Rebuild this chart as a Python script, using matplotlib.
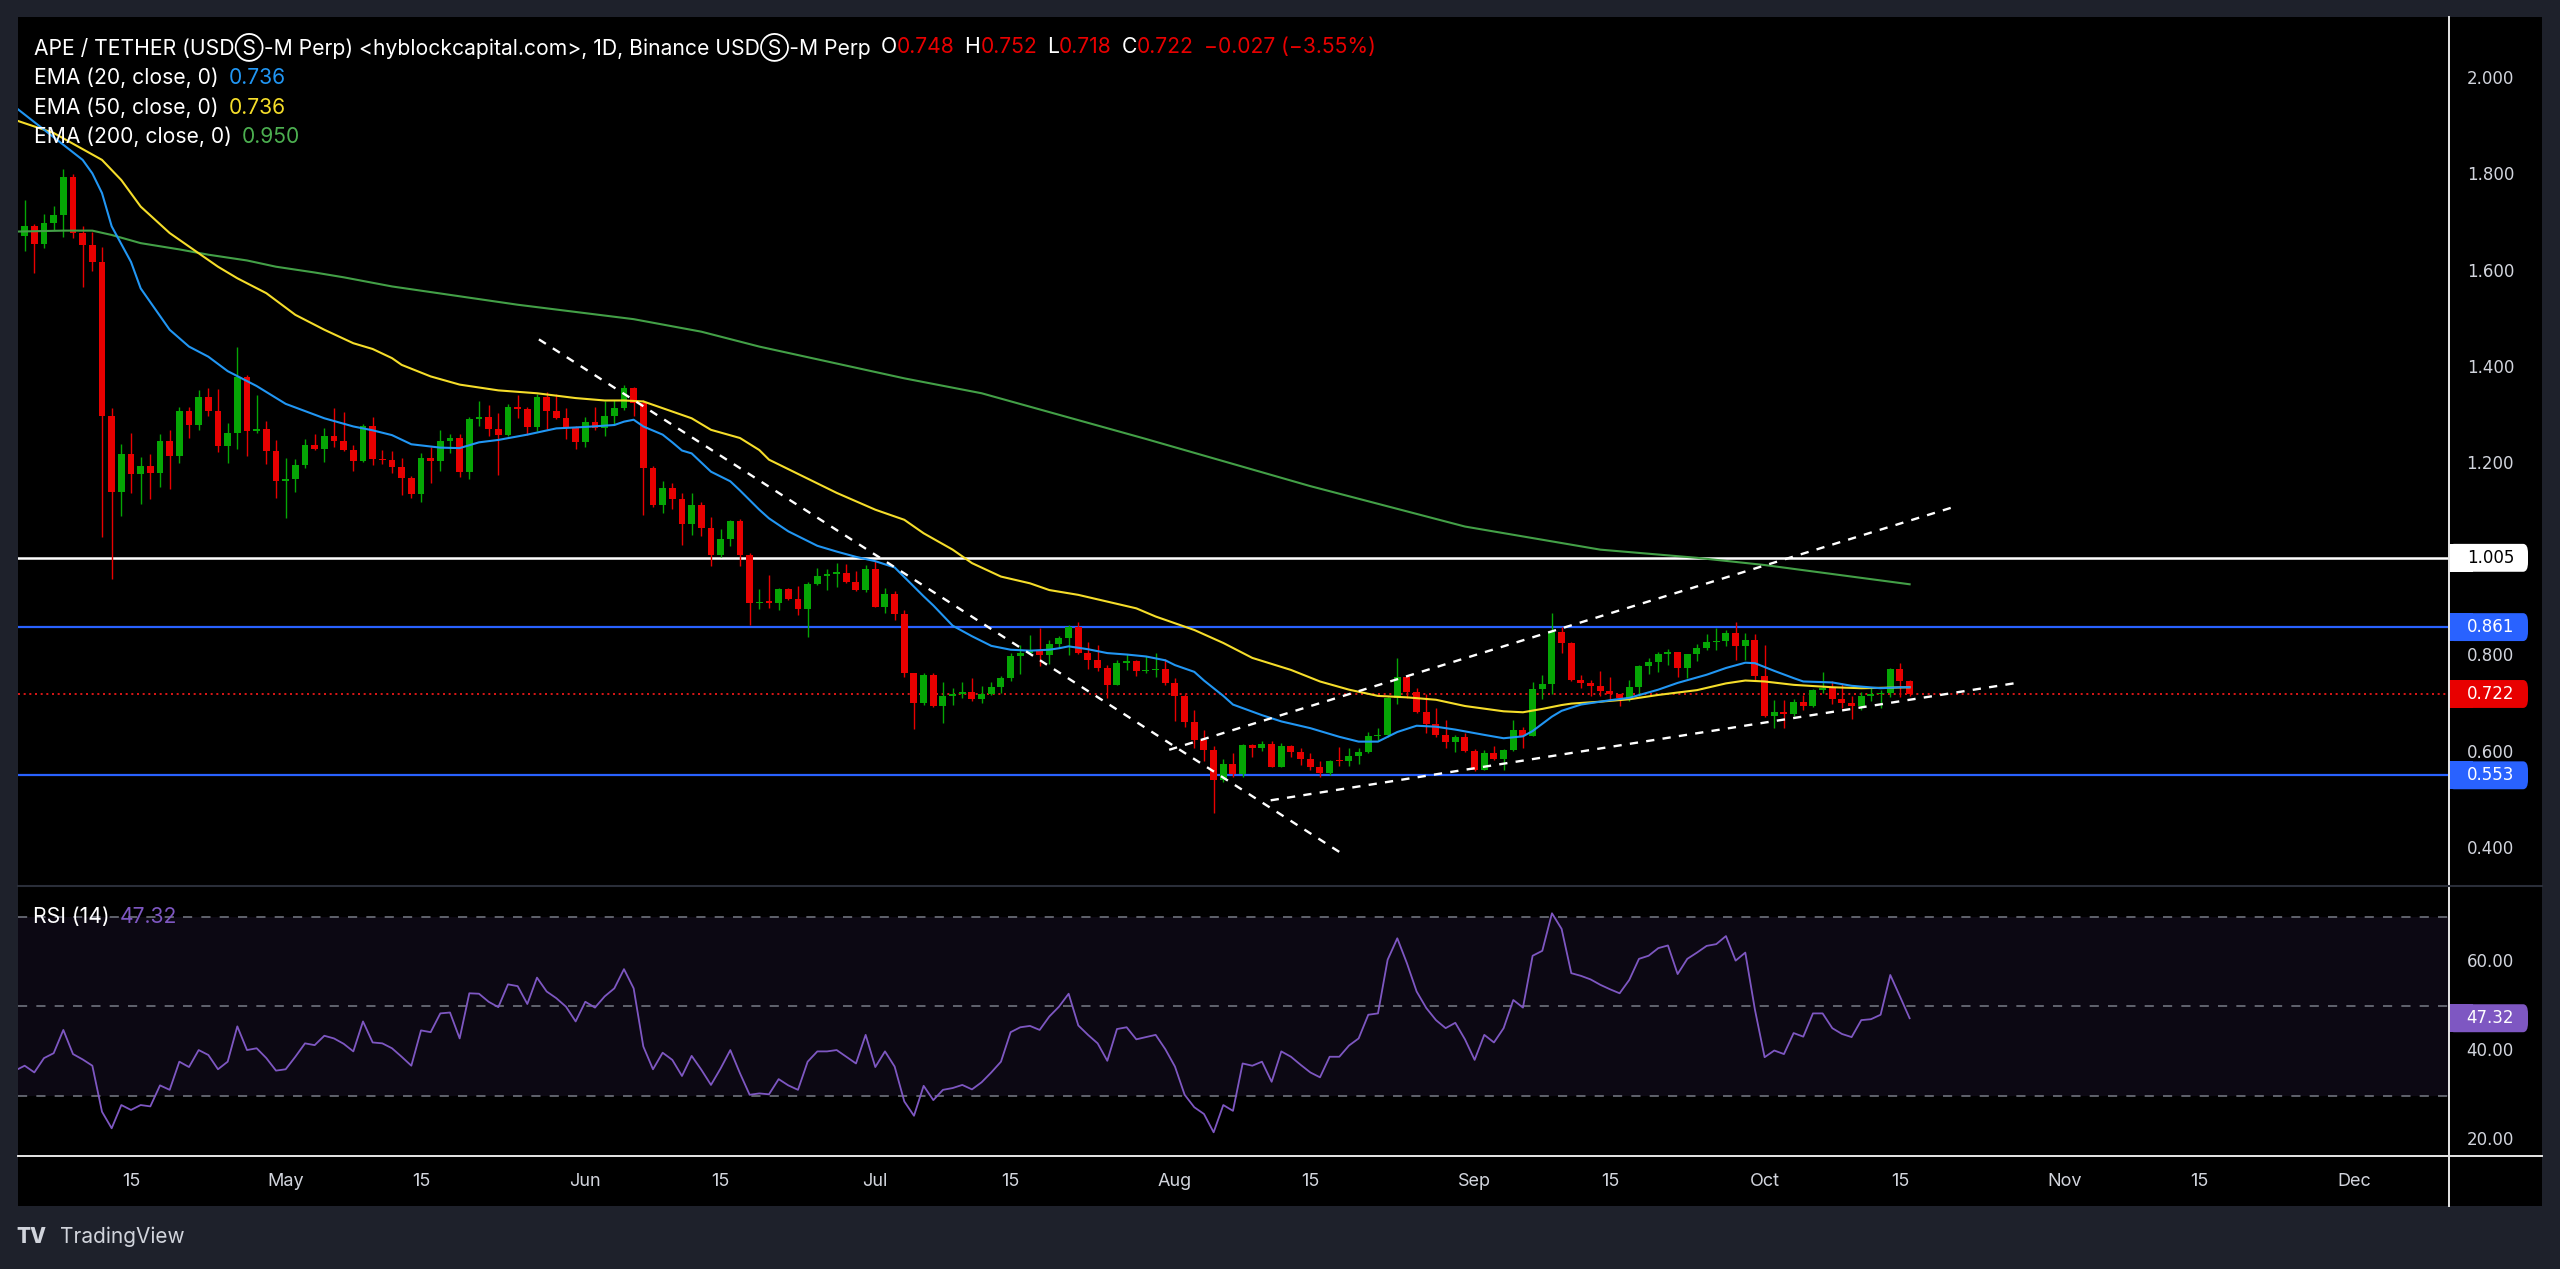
#!/usr/bin/env python3
# -*- coding: utf-8 -*-
"""
APE/USDT daily chart (TradingView look-alike): candles, EMA 20/50/200,
horizontal levels, hand-drawn trend channel and an RSI(14) sub-pane.
"""

import numpy as np
import pandas as pd
import matplotlib
matplotlib.use('Agg')
import matplotlib.pyplot as plt
from matplotlib.lines import Line2D
from matplotlib.patches import Rectangle, FancyBboxPatch

# ----------------------------------------------------------------
# Data
# ----------------------------------------------------------------
FIRST_DAY = '2024-04-03'

opens = [
    # Apr 3 - Apr 30
    1.714, 1.673, 1.694, 1.658, 1.700, 1.718, 1.796, 1.680, 1.655, 1.619, 1.300, 1.142, 1.221, 1.180,
    1.196, 1.181, 1.248, 1.217, 1.311, 1.280, 1.339, 1.310, 1.238, 1.264, 1.380, 1.268, 1.272, 1.228,
    # May
    1.164, 1.168, 1.198, 1.239, 1.232, 1.259, 1.247, 1.229, 1.207, 1.278, 1.211, 1.208, 1.193, 1.170,
    1.138, 1.212, 1.207, 1.247, 1.254, 1.184, 1.294, 1.297, 1.272, 1.261, 1.318, 1.314, 1.277, 1.340,
    1.310, 1.295, 1.274,
    # Jun
    1.245, 1.288, 1.274, 1.300, 1.317, 1.358, 1.326, 1.191, 1.115, 1.150, 1.127, 1.075, 1.115, 1.068,
    1.010, 1.044, 1.081, 1.011, 0.911, 0.914, 0.912, 0.940, 0.919, 0.898, 0.951, 0.968, 0.972, 0.973,
    0.954, 0.939,
    # Jul
    0.981, 0.902, 0.930, 0.888, 0.765, 0.704, 0.762, 0.697, 0.717, 0.722, 0.726, 0.712, 0.722, 0.736,
    0.755, 0.801, 0.808, 0.812, 0.803, 0.826, 0.839, 0.861, 0.807, 0.792, 0.776, 0.741, 0.786, 0.790,
    0.769, 0.772, 0.774,
    # Aug
    0.745, 0.717, 0.664, 0.627, 0.606, 0.544, 0.577, 0.556, 0.617, 0.610, 0.619, 0.571, 0.614, 0.602,
    0.586, 0.570, 0.558, 0.583, 0.582, 0.594, 0.601, 0.634, 0.637, 0.714, 0.757, 0.727, 0.684, 0.659,
    0.637, 0.623, 0.632,
    # Sep
    0.604, 0.565, 0.600, 0.586, 0.605, 0.648, 0.635, 0.732, 0.743, 0.850, 0.827, 0.751, 0.745, 0.738,
    0.728, 0.721, 0.714, 0.737, 0.780, 0.789, 0.805, 0.809, 0.775, 0.805, 0.817, 0.829, 0.833, 0.849,
    0.821, 0.835,
    # Oct 1 - Oct 16
    0.759, 0.676, 0.685, 0.680, 0.705, 0.698, 0.731, 0.734, 0.712, 0.703, 0.697, 0.718, 0.722, 0.724,
    0.774, 0.748,
]
highs = [
    1.725, 1.749, 1.699, 1.720, 1.737, 1.813, 1.803, 1.694, 1.683, 1.651, 1.316, 1.242, 1.264, 1.214,
    1.221, 1.263, 1.270, 1.318, 1.319, 1.354, 1.358, 1.356, 1.285, 1.443, 1.385, 1.343, 1.290, 1.249,
    1.212, 1.210, 1.252, 1.263, 1.275, 1.316, 1.309, 1.239, 1.283, 1.297, 1.229, 1.226, 1.212, 1.175,
    1.223, 1.236, 1.270, 1.263, 1.263, 1.297, 1.331, 1.322, 1.306, 1.325, 1.343, 1.318, 1.346, 1.349,
    1.346, 1.316, 1.279,
    1.297, 1.318, 1.330, 1.332, 1.364, 1.361, 1.332, 1.195, 1.165, 1.160, 1.139, 1.139, 1.120, 1.090,
    1.065, 1.084, 1.085, 1.014, 0.940, 0.970, 0.942, 0.942, 0.947, 0.955, 0.984, 0.981, 0.995, 0.992,
    0.977, 0.990,
    0.999, 0.942, 0.935, 0.896, 0.766, 0.765, 0.765, 0.747, 0.734, 0.747, 0.755, 0.738, 0.746, 0.760,
    0.808, 0.823, 0.844, 0.859, 0.835, 0.843, 0.866, 0.871, 0.829, 0.824, 0.783, 0.792, 0.805, 0.793,
    0.801, 0.808, 0.794,
    0.755, 0.722, 0.689, 0.648, 0.613, 0.587, 0.599, 0.619, 0.619, 0.625, 0.625, 0.621, 0.617, 0.609,
    0.600, 0.583, 0.585, 0.611, 0.609, 0.609, 0.643, 0.651, 0.716, 0.797, 0.759, 0.734, 0.722, 0.692,
    0.668, 0.637, 0.640,
    0.607, 0.605, 0.613, 0.607, 0.667, 0.654, 0.747, 0.762, 0.890, 0.861, 0.829, 0.762, 0.751, 0.769,
    0.757, 0.723, 0.751, 0.782, 0.797, 0.810, 0.815, 0.810, 0.805, 0.826, 0.846, 0.859, 0.856, 0.872,
    0.849, 0.847,
    0.824, 0.710, 0.710, 0.712, 0.719, 0.733, 0.768, 0.748, 0.745, 0.718, 0.726, 0.736, 0.731, 0.775,
    0.786, 0.752,
]
lows = [
    1.660, 1.642, 1.597, 1.649, 1.687, 1.671, 1.669, 1.568, 1.602, 1.049, 0.961, 1.091, 1.139, 1.117,
    1.128, 1.153, 1.148, 1.202, 1.254, 1.271, 1.300, 1.224, 1.202, 1.231, 1.217, 1.265, 1.200, 1.129,
    1.087, 1.141, 1.191, 1.229, 1.205, 1.235, 1.228, 1.186, 1.205, 1.198, 1.200, 1.181, 1.136, 1.129,
    1.122, 1.160, 1.186, 1.223, 1.174, 1.168, 1.278, 1.259, 1.178, 1.259, 1.295, 1.261, 1.269, 1.272,
    1.293, 1.252, 1.231,
    1.235, 1.270, 1.259, 1.281, 1.313, 1.299, 1.094, 1.110, 1.099, 1.106, 1.031, 1.052, 1.051, 0.987,
    1.006, 1.029, 0.987, 0.866, 0.898, 0.900, 0.897, 0.917, 0.887, 0.840, 0.949, 0.938, 0.945, 0.953,
    0.935, 0.933,
    0.902, 0.891, 0.876, 0.758, 0.649, 0.700, 0.695, 0.661, 0.700, 0.713, 0.708, 0.704, 0.719, 0.725,
    0.748, 0.764, 0.806, 0.781, 0.785, 0.817, 0.803, 0.805, 0.774, 0.769, 0.713, 0.740, 0.771, 0.760,
    0.766, 0.758, 0.740,
    0.665, 0.654, 0.609, 0.582, 0.474, 0.540, 0.549, 0.549, 0.590, 0.603, 0.570, 0.570, 0.592, 0.574,
    0.563, 0.549, 0.554, 0.573, 0.573, 0.577, 0.599, 0.627, 0.632, 0.701, 0.714, 0.683, 0.641, 0.632,
    0.610, 0.602, 0.602,
    0.562, 0.565, 0.585, 0.563, 0.603, 0.609, 0.634, 0.711, 0.722, 0.808, 0.749, 0.734, 0.718, 0.718,
    0.710, 0.698, 0.708, 0.718, 0.763, 0.768, 0.783, 0.757, 0.755, 0.791, 0.814, 0.814, 0.821, 0.793,
    0.793, 0.750,
    0.675, 0.651, 0.652, 0.677, 0.688, 0.695, 0.724, 0.702, 0.693, 0.671, 0.689, 0.707, 0.693, 0.715,
    0.716, 0.718,
]
closes = [
    1.673, 1.694, 1.658, 1.700, 1.718, 1.796, 1.680, 1.655, 1.619, 1.300, 1.142, 1.221, 1.180, 1.196,
    1.181, 1.248, 1.217, 1.311, 1.280, 1.339, 1.310, 1.238, 1.264, 1.380, 1.268, 1.272, 1.228, 1.164,
    1.168, 1.198, 1.239, 1.232, 1.259, 1.247, 1.229, 1.207, 1.278, 1.211, 1.208, 1.193, 1.170, 1.138,
    1.212, 1.207, 1.247, 1.254, 1.184, 1.294, 1.297, 1.272, 1.261, 1.318, 1.314, 1.277, 1.340, 1.310,
    1.295, 1.274, 1.245,
    1.288, 1.274, 1.300, 1.317, 1.358, 1.326, 1.191, 1.115, 1.150, 1.127, 1.075, 1.115, 1.068, 1.010,
    1.044, 1.081, 1.011, 0.911, 0.914, 0.912, 0.940, 0.919, 0.898, 0.951, 0.968, 0.972, 0.973, 0.954,
    0.939, 0.981,
    0.902, 0.930, 0.888, 0.765, 0.704, 0.762, 0.697, 0.717, 0.722, 0.726, 0.712, 0.722, 0.736, 0.755,
    0.801, 0.808, 0.812, 0.803, 0.826, 0.839, 0.861, 0.807, 0.792, 0.776, 0.741, 0.786, 0.790, 0.769,
    0.772, 0.774, 0.745,
    0.717, 0.664, 0.627, 0.606, 0.544, 0.577, 0.556, 0.617, 0.610, 0.619, 0.571, 0.614, 0.602, 0.586,
    0.570, 0.558, 0.583, 0.582, 0.594, 0.601, 0.634, 0.637, 0.714, 0.757, 0.727, 0.684, 0.659, 0.637,
    0.623, 0.632, 0.604,
    0.565, 0.600, 0.586, 0.605, 0.648, 0.635, 0.732, 0.743, 0.850, 0.827, 0.751, 0.745, 0.738, 0.728,
    0.721, 0.714, 0.737, 0.780, 0.789, 0.805, 0.809, 0.775, 0.805, 0.817, 0.829, 0.833, 0.849, 0.821,
    0.835, 0.759,
    0.676, 0.685, 0.680, 0.705, 0.698, 0.731, 0.734, 0.712, 0.703, 0.697, 0.718, 0.722, 0.724, 0.774,
    0.748, 0.722,
]

rsi_vals = [
    35.6, 36.7, 35.2, 38.4, 39.5, 44.7, 39.3, 38.1, 36.7, 26.4, 22.7, 27.9, 26.8, 27.9, 27.6, 32.3,
    31.3, 37.6, 36.4, 40.2, 39.1, 35.9, 37.6, 45.5, 40.2, 40.6, 38.4, 35.6,
    35.9, 38.7, 41.7, 41.3, 43.4, 42.8, 41.6, 39.9, 46.6, 41.9, 41.7, 40.6, 38.7, 36.7, 44.6, 44.2,
    48.4, 48.6, 42.8, 52.9, 52.8, 51.0, 49.8, 54.9, 54.5, 50.5, 56.4, 53.3, 51.8, 49.9, 46.6,
    51.0, 49.7, 52.2, 54.0, 58.3, 54.0, 41.0, 35.9, 39.6, 38.0, 34.4, 38.9, 35.8, 32.4, 36.1, 40.2,
    35.0, 30.2, 30.5, 30.3, 33.7, 32.3, 31.3, 37.6, 39.9, 39.9, 40.2, 38.7, 37.2, 43.6,
    36.4, 39.9, 36.5, 28.7, 25.5, 32.2, 29.0, 31.3, 31.7, 32.4, 31.4, 33.0, 35.2, 37.6, 44.2, 45.3,
    45.6, 44.7, 47.7, 49.9, 52.8, 45.7, 43.6, 41.7, 37.8, 44.9, 45.3, 42.6, 43.1, 43.6, 40.4,
    36.5, 30.2, 27.4, 25.9, 21.8, 27.9, 26.6, 37.2, 36.7, 37.6, 33.1, 39.9, 38.7, 36.9, 35.2, 34.1,
    38.7, 38.7, 41.2, 42.8, 48.1, 48.4, 60.4, 65.2, 59.6, 53.3, 49.6, 46.9, 45.1, 46.3, 42.6,
    38.0, 43.6, 41.9, 45.1, 51.4, 49.7, 61.3, 62.4, 70.8, 67.3, 57.4, 56.8, 56.0, 54.8, 53.8, 52.9,
    55.9, 60.6, 61.3, 63.0, 63.6, 57.2, 60.6, 62.0, 63.5, 63.9, 65.7, 60.2, 62.0, 49.2,
    38.6, 40.1, 39.3, 44.0, 43.2, 48.4, 48.4, 45.1, 43.8, 43.1, 46.9, 47.1, 48.1, 57.0, 52.2, 47.32,
]

# EMA readings: candle index (0 = Apr 3) and value
ema20_idx = [0, 7, 8, 9, 10, 12, 13, 16, 18, 20, 22, 25, 28, 32, 35, 37, 39, 41, 44, 46, 48, 50, 53,
             56, 59, 62, 63, 64, 65, 67, 68, 69, 70, 72, 74, 75, 77, 78, 80, 83, 85, 87, 89, 91, 92,
             94, 95, 97, 99, 101, 103, 105, 107, 108, 109, 111, 113, 115, 117, 119, 120, 122, 123,
             125, 126, 129, 131, 134, 137, 139, 141, 143, 145, 147, 149, 152, 154, 156, 157, 158,
             159, 160, 162, 165, 167, 170, 172, 175, 177, 179, 180, 182, 184, 185, 188, 190, 193,
             195, 196]
ema20_vals = [1.942, 1.832, 1.804, 1.763, 1.694, 1.620, 1.565, 1.479, 1.444, 1.423, 1.393, 1.362,
              1.325, 1.295, 1.278, 1.270, 1.260, 1.241, 1.234, 1.233, 1.245, 1.250, 1.261, 1.274,
              1.277, 1.281, 1.288, 1.292, 1.278, 1.261, 1.245, 1.228, 1.222, 1.184, 1.164, 1.145,
              1.105, 1.087, 1.060, 1.030, 1.018, 1.007, 0.998, 0.985, 0.965, 0.925, 0.906, 0.864,
              0.842, 0.822, 0.814, 0.812, 0.814, 0.817, 0.821, 0.815, 0.807, 0.804, 0.800, 0.792,
              0.782, 0.768, 0.750, 0.718, 0.700, 0.678, 0.665, 0.651, 0.633, 0.623, 0.623, 0.643,
              0.656, 0.654, 0.648, 0.637, 0.630, 0.634, 0.645, 0.660, 0.675, 0.687, 0.700, 0.709,
              0.714, 0.731, 0.745, 0.762, 0.776, 0.787, 0.786, 0.770, 0.755, 0.748, 0.746, 0.739,
              0.734, 0.736, 0.736]

ema50_idx = [0, 4, 9, 11, 13, 16, 19, 21, 23, 26, 29, 32, 35, 37, 39, 40, 43, 46, 50, 54, 58, 61,
             63, 65, 67, 70, 72, 75, 77, 78, 85, 89, 92, 94, 97, 99, 102, 105, 107, 110, 113, 116,
             118, 120, 122, 125, 128, 132, 135, 138, 141, 144, 147, 150, 154, 156, 158, 160, 161,
             164, 167, 170, 174, 177, 179, 181, 184, 188, 191, 196]
ema50_vals = [1.915, 1.888, 1.832, 1.790, 1.735, 1.680, 1.638, 1.610, 1.586, 1.555, 1.510, 1.479,
              1.451, 1.439, 1.420, 1.406, 1.382, 1.365, 1.353, 1.347, 1.337, 1.332, 1.332, 1.330,
              1.316, 1.295, 1.271, 1.254, 1.229, 1.209, 1.140, 1.105, 1.084, 1.056, 1.022, 0.994,
              0.966, 0.952, 0.938, 0.928, 0.914, 0.900, 0.883, 0.869, 0.855, 0.828, 0.797, 0.772,
              0.748, 0.731, 0.718, 0.715, 0.710, 0.697, 0.686, 0.684, 0.691, 0.699, 0.702, 0.706,
              0.711, 0.720, 0.730, 0.744, 0.750, 0.748, 0.741, 0.736, 0.734, 0.736]

ema200_idx = [0, 5, 8, 10, 13, 17, 20, 24, 27, 31, 34, 39, 52, 64, 71, 77, 92, 100, 117, 134, 150,
              164, 174, 181, 196]
ema200_vals = [1.683, 1.685, 1.685, 1.676, 1.659, 1.646, 1.635, 1.623, 1.610, 1.598, 1.588, 1.569,
               1.531, 1.501, 1.475, 1.444, 1.378, 1.347, 1.252, 1.154, 1.070, 1.022, 1.005, 0.990,
               0.950]

# horizontal levels drawn on the chart
level_white = 1.005
levels_blue = [0.861, 0.553]
last_close = 0.722
rsi_last = 47.32

# dashed trend lines (candle index, price)
down_x, down_y = [54.2, 137.6], [1.459, 0.386]
lower_x, lower_y = [129.9, 207.4], [0.501, 0.746]
upper_x, upper_y = [119.4, 200.3], [0.606, 1.109]

price_ticks = [2.0, 1.8, 1.6, 1.4, 1.2, 0.8, 0.6, 0.4]
rsi_ticks = [60, 40, 20]
rsi_bands = [70, 50, 30]
tick_dates = ['2024-04-15', '2024-05-01', '2024-05-15', '2024-06-01', '2024-06-15', '2024-07-01',
              '2024-07-15', '2024-08-01', '2024-08-15', '2024-09-01', '2024-09-15', '2024-10-01',
              '2024-10-15', '2024-11-01', '2024-11-15', '2024-12-01']
tick_labels = ['15', 'May', '15', 'Jun', '15', 'Jul', '15', 'Aug', '15', 'Sep', '15', 'Oct', '15',
               'Nov', '15', 'Dec']

# ----------------------------------------------------------------
# Style
# ----------------------------------------------------------------
BG_OUTER = '#1e212b'
C_UP = '#05a605'
C_DN = '#e80000'
C_EMA20 = '#2196f3'
C_EMA50 = '#f5dd2a'
C_EMA200 = '#43a047'
C_LEVEL = '#2962ff'
C_RSI = '#7e57c2'
C_AXTXT = '#d1d4dc'
C_TITLE_RED = '#e80000'

FONT = ['Inter', 'DejaVu Sans', 'Noto Sans CJK SC']
plt.rcParams['font.family'] = FONT

W, H = 2560, 1269
fig = plt.figure(figsize=(W / 100, H / 100), dpi=100, facecolor=BG_OUTER)


def fx(px):
    return px / W


def fy(py):
    return 1 - py / H


# black chart panel (behind the axes)
fig.patches.append(Rectangle((fx(18), fy(1206)), fx(2542) - fx(18), fy(17) - fy(1206),
                             transform=fig.transFigure, fc='black', ec='none', zorder=-5))

ax = fig.add_axes([fx(18), fy(885), fx(2449) - fx(18), fy(17) - fy(885)])
ax_rsi = fig.add_axes([fx(18), fy(1156), fx(2449) - fx(18), fy(886) - fy(1156)], sharex=ax)
for a in (ax, ax_rsi):
    a.set_facecolor('black')
    for s in a.spines.values():
        s.set_visible(False)
    a.tick_params(left=False, bottom=False, labelleft=False, labelbottom=False)

# ----------------------------------------------------------------
# Price pane
# ----------------------------------------------------------------
o = np.array(opens)
h = np.array(highs)
l = np.array(lows)
c = np.array(closes)
idx = np.arange(len(c))
cols = np.where(c >= o, C_UP, C_DN)

ax.vlines(idx, l, h, colors=cols, lw=1.0, zorder=3)
ax.bar(idx, np.maximum(np.abs(c - o), 0.0025), bottom=np.minimum(o, c), width=0.72,
       color=cols, lw=0, zorder=4)

ax.plot(ema200_idx, ema200_vals, color=C_EMA200, lw=1.5, zorder=5)
ax.plot(ema50_idx, ema50_vals, color=C_EMA50, lw=1.5, zorder=5)
ax.plot(ema20_idx, ema20_vals, color=C_EMA20, lw=1.5, zorder=5)

ax.axhline(level_white, color='white', lw=1.8, zorder=2)
for lv in levels_blue:
    ax.axhline(lv, color=C_LEVEL, lw=1.6, zorder=2)
ax.axhline(last_close, color='#ff1a1a', lw=1.2, ls=(0, (1.2, 2.2)), zorder=2)

for xs, ys in ((down_x, down_y), (lower_x, lower_y), (upper_x, upper_y)):
    ax.plot(xs, ys, color='white', lw=1.7, ls=(0, (3.5, 3.5)), zorder=6)

ax.set_xlim(0.31, 251.8)
ax.set_ylim(0.325, 2.129)

# price scale labels
ytr = ax.get_yaxis_transform()
for p in price_ticks:
    ax.text(1.017, p, f'{p:.3f}', transform=ytr, ha='center', va='center', fontsize=12,
            color=C_AXTXT, family='DejaVu Sans', clip_on=False)


def badge(axis, val, txt, fc, tc, half_h):
    """Value tag on the price scale: flush left edge, rounded right end."""
    tr = axis.get_yaxis_transform()
    axis.add_patch(Rectangle((1.0, val - half_h), 0.01, 2 * half_h, transform=tr,
                             fc=fc, ec='none', clip_on=False, zorder=10))
    axis.add_patch(FancyBboxPatch((1.0, val - half_h), 0.0325, 2 * half_h, transform=tr,
                                  boxstyle='round,pad=0,rounding_size=0.002',
                                  mutation_aspect=(2 * half_h) / 0.006,
                                  fc=fc, ec='none', clip_on=False, zorder=10))
    axis.text(1.017, val, txt, transform=tr, ha='center', va='center', fontsize=12,
              color=tc, family='DejaVu Sans', clip_on=False, zorder=11)


for val, fc, tc in ((level_white, 'white', 'black'), (levels_blue[0], C_LEVEL, 'white'),
                    (last_close, '#e80000', 'white'), (levels_blue[1], C_LEVEL, 'white')):
    badge(ax, val, f'{val:.3f}', fc, tc, 0.029)

# ----------------------------------------------------------------
# RSI pane
# ----------------------------------------------------------------
ax_rsi.axhspan(rsi_bands[-1], rsi_bands[0], color=C_RSI, alpha=0.10, lw=0)
for b in rsi_bands:
    ax_rsi.axhline(b, color='#787b86', lw=1.1, ls=(0, (6, 6)))
ax_rsi.plot(np.arange(len(rsi_vals)), rsi_vals, color=C_RSI, lw=1.3)
ax_rsi.set_ylim(16.5, 76.9)

rtr = ax_rsi.get_yaxis_transform()
for r in rsi_ticks:
    ax_rsi.text(1.017, r, f'{r:.2f}', transform=rtr, ha='center', va='center', fontsize=12,
                color=C_AXTXT, family='DejaVu Sans', clip_on=False)
badge(ax_rsi, rsi_last, f'{rsi_last:.2f}', C_RSI, 'white', 3.13)

# time axis labels
first = pd.Timestamp(FIRST_DAY)
xtr = ax_rsi.get_xaxis_transform()
for d, lab in zip(tick_dates, tick_labels):
    pos = (pd.Timestamp(d) - first).days
    ax_rsi.text(pos, -0.095, lab, transform=xtr, ha='center', va='center', fontsize=13,
                color=C_AXTXT, clip_on=False)

# ----------------------------------------------------------------
# Frame lines
# ----------------------------------------------------------------
fig.add_artist(Line2D([fx(2449), fx(2449)], [fy(17), fy(1206)], color='#e6e6e6', lw=1.4))
fig.add_artist(Line2D([fx(18), fx(2542)], [fy(1156), fy(1156)], color='#e6e6e6', lw=1.4))
fig.add_artist(Line2D([fx(18), fx(2542)], [fy(885.5), fy(885.5)], color='#2a2e39', lw=1.5))

# ----------------------------------------------------------------
# Legend texts (multi-colour runs)
# ----------------------------------------------------------------
rend = fig.canvas.get_renderer()


def draw_runs(runs, x0, y0, size):
    x = x0
    for txt, col, gap in runs:
        x += gap
        t = fig.text(fx(x), fy(y0), txt, color=col, fontsize=size, ha='left', va='center')
        x += t.get_window_extent(rend).width
    return x


TS = 15.2
draw_runs([('APE / TETHER (USD\u24c8-M Perp) <hyblockcapital.com>, 1D, Binance USD\u24c8-M Perp',
            'white', 0),
           ('O', 'white', 10), ('0.748', C_TITLE_RED, 0),
           ('H', 'white', 10), ('0.752', C_TITLE_RED, 0),
           ('L', 'white', 10), ('0.718', C_TITLE_RED, 0),
           ('C', 'white', 10), ('0.722', C_TITLE_RED, 0),
           ('\u22120.027 (\u22123.55%)', C_TITLE_RED, 10)], 34, 47, TS)
draw_runs([('EMA (20, close, 0)', 'white', 0), ('0.736', C_EMA20, 10)], 34, 78, TS)
draw_runs([('EMA (50, close, 0)', 'white', 0), ('0.736', C_EMA50, 10)], 34, 108, TS)
draw_runs([('EMA (200, close, 0)', 'white', 0), ('0.950', '#4caf50', 10)], 34, 137, TS)
draw_runs([('RSI (14)', 'white', 0), ('47.32', C_RSI, 10)], 33, 917, TS)

# TradingView mark
fig.text(fx(16), fy(1237), 'TV', color=C_AXTXT, fontsize=15, fontweight='heavy',
         ha='left', va='center')
fig.text(fx(60), fy(1237), 'TradingView', color=C_AXTXT, fontsize=15, ha='left', va='center')

fig.savefig('out.png', dpi=100, facecolor=fig.get_facecolor())
